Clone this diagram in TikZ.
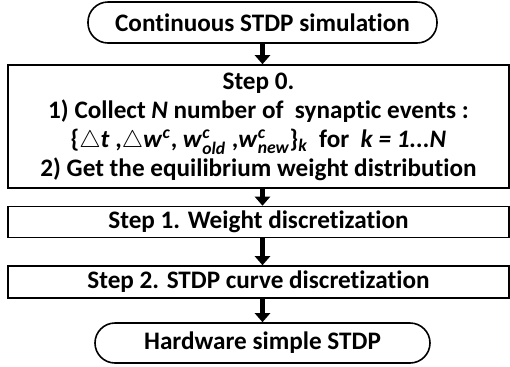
\documentclass[tikz,border=0pt]{standalone}
\usepackage{fontspec}
\setmainfont{Carlito}[Ligatures=NoCommon]
\usepackage{amsmath}
\usetikzlibrary{positioning,arrows.meta}

\begin{document}
\begin{tikzpicture}[node distance=30pt]

	\tikzset{%
		block/.style = {draw, line width=0.8pt, rectangle, minimum width=250.5pt,
			align=center, inner sep=1pt, font=\bfseries\fontsize{12.6}{14.5}\selectfont}, % Schritt
		term/.style  = {draw, line width=0.8pt, rectangle, rounded corners=10pt,
			align=center, inner sep=1pt, font=\bfseries\fontsize{12.6}{14.5}\selectfont}, % Start / Ende
		flow/.style  = {-{Triangle[length=4.5pt,width=7.5pt]}, line width=2.2pt} % dicker Pfeil
	}

	\useasboundingbox (0,0) rectangle (255pt,-183pt);

	\node[term, minimum width=174.5pt, minimum height=20.5pt] (sim) at (131.25pt,-11.25pt) {Continuous STDP simulation};
	\node[block, minimum height=61.5pt, below of=sim, node distance=52pt, xshift=-2pt] (step0) {Step 0.\\
		1) Collect \textit{N} number of \ synaptic events :\\
		\{$\triangle$\textit{t} ,$\triangle$\textit{w}$^{\textit{c}}$, \textit{w}$^{\textit{c}}_{\textit{old}}$ ,\textit{w}$^{\textit{c}}_{\textit{new}}$\}$_{\textit{k}}$ \ for \ \textit{k = 1...N}\\
		2) Get the equilibrium weight distribution};
	\node[block, minimum height=15.5pt, below of=step0, node distance=47.75pt] (step1) {Step 1. Weight discretization};
	\node[block, minimum height=16pt, below of=step1] (step2) {Step 2. STDP curve discretization};
	\node[term, minimum width=167.5pt, minimum height=20pt, below of=step2, node distance=30.5pt, xshift=2pt] (hw) {Hardware simple STDP};

	% Pfeile
	\draw[flow] (sim.south) -- (sim.south |- step0.north);
	\draw[flow] (step0.south -| sim.south) -- (step1.north -| sim.south);
	\draw[flow] (step1.south -| sim.south) -- (step2.north -| sim.south);
	\draw[flow] (step2.south -| hw.north) -- (hw.north);
\end{tikzpicture}
\end{document}
